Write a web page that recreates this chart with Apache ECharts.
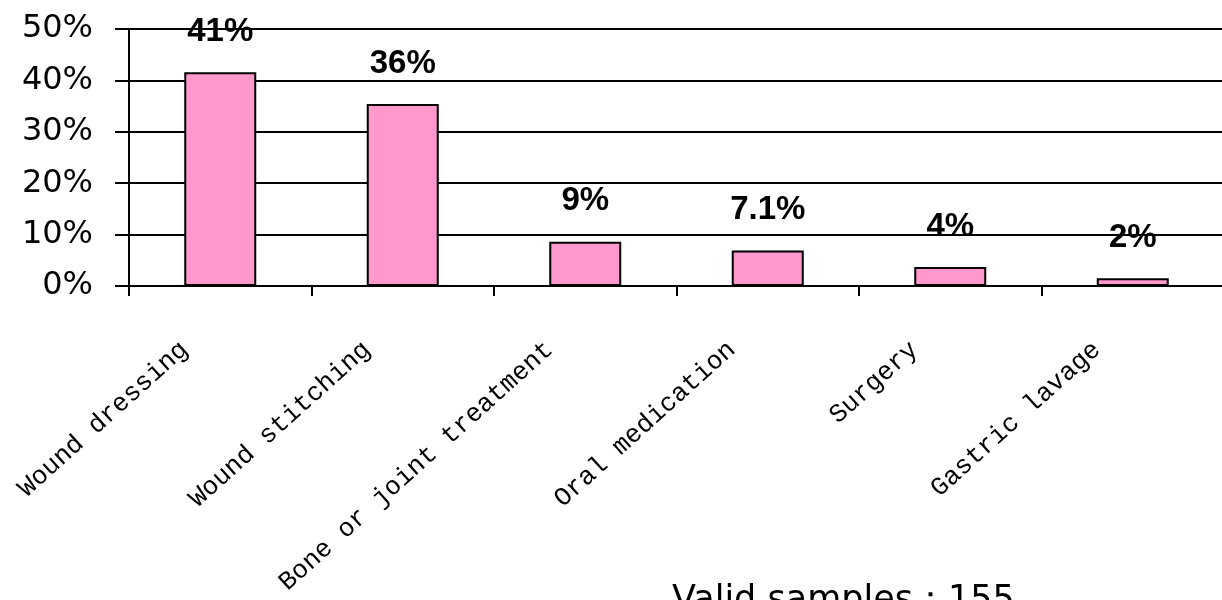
<!DOCTYPE html>
<html>
<head>
<meta charset="utf-8">
<script src="https://cdn.jsdelivr.net/npm/echarts@6/dist/echarts.min.js"></script>
<style>
  html, body { margin: 0; padding: 0; background: #fff; }
  #chart { width: 1222px; height: 600px; }
</style>
</head>
<body>
<div id="chart"></div>
<script>
// treatment categories
var categories = ['Wound dressing', 'Wound stitching', 'Bone or joint treatment', 'Oral medication', 'Surgery', 'Gastric lavage'];
// bar heights (percent)
var values = [41.6, 35.4, 8.6, 6.9, 3.7, 1.5];
// labels printed above the bars
var valueLabels = ['41%', '36%', '9%', '7.1%', '4%', '2%'];
var yTicks = [0, 10, 20, 30, 40, 50];

var chart = echarts.init(document.getElementById('chart'));

var option = {
    animation: false,
    backgroundColor: '#fff',
    grid: {
        left: 129,
        right: -2,
        top: 29,
        bottom: 314,
        outerBoundsMode: 'none'
    },
    xAxis: {
        type: 'category',
        data: categories,
        boundaryGap: true,
        axisLine: { lineStyle: { color: '#000', width: 2 } },
        axisTick: { show: true, length: 10, lineStyle: { color: '#000', width: 2 } },
        axisLabel: {
            rotate: 42,
            interval: 0,
            margin: 28,
            padding: [0, 48, 0, 0],
            color: '#000',
            fontFamily: '"Liberation Mono", monospace',
            fontSize: 26
        }
    },
    yAxis: {
        type: 'value',
        min: yTicks[0],
        max: yTicks[yTicks.length - 1],
        interval: 10,
        axisLine: { show: true, lineStyle: { color: '#000', width: 2 } },
        axisTick: { show: true, length: 14, lineStyle: { color: '#000', width: 2 } },
        splitLine: { show: true, lineStyle: { color: '#000', width: 2 } },
        axisLabel: {
            margin: 36,
            color: '#000',
            fontFamily: '"DejaVu Sans", sans-serif',
            fontSize: 32,
            formatter: '{value}%'
        }
    },
    series: [
        {
            type: 'bar',
            data: values,
            barWidth: 72,
            itemStyle: {
                color: '#FF99CC',
                borderColor: '#000',
                borderWidth: 2
            },
            label: {
                show: true,
                position: 'top',
                distance: 24,
                color: '#000',
                fontFamily: '"Liberation Sans", Arial, sans-serif',
                fontWeight: 'bold',
                fontSize: 33,
                formatter: function (p) { return valueLabels[p.dataIndex]; }
            }
        }
    ],
    graphic: [
        {
            type: 'text',
            left: 672,
            top: 583,
            style: {
                text: 'Valid samples：155',
                fill: '#000',
                font: '35px "DejaVu Sans", sans-serif'
            }
        }
    ]
};

chart.setOption(option);
</script>
</body>
</html>
